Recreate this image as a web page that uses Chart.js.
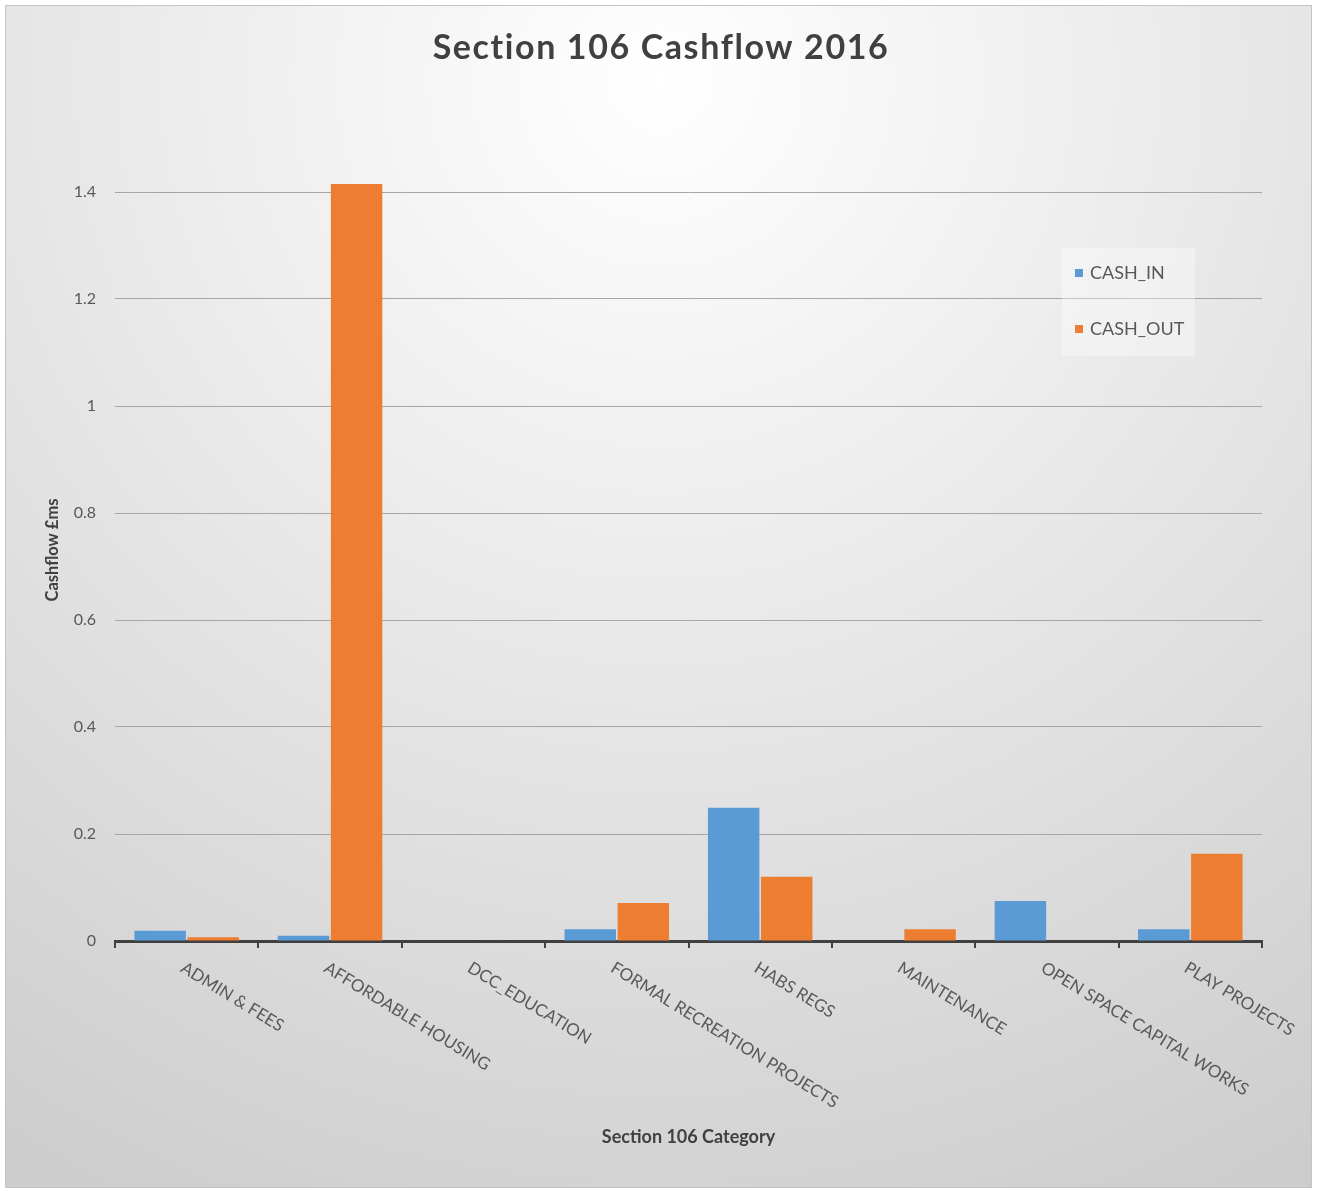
<!DOCTYPE html>
<html>
<head>
<meta charset="utf-8">
<title>Section 106 Cashflow 2016</title>
<script src="https://cdn.jsdelivr.net/npm/chart.js@4.4.1/dist/chart.umd.min.js"></script>
<style>
  html, body { margin: 0; padding: 0; background: #fff; }
  #wrap { width: 1317px; height: 1191px; }
</style>
</head>
<body>
<div id="wrap"><canvas id="chart" width="1317" height="1191"></canvas></div>
<script>
const categories = [
  "ADMIN & FEES",
  "AFFORDABLE HOUSING",
  "DCC_EDUCATION",
  "FORMAL RECREATION PROJECTS",
  "HABS REGS",
  "MAINTENANCE",
  "OPEN SPACE CAPITAL WORKS",
  "PLAY PROJECTS"
]
const cashIn = [0.019, 0.010, 0, 0.022, 0.249, 0, 0.075, 0.022]
const cashOut = [0.007, 1.415, 0, 0.071, 0.120, 0.022, 0, 0.163]
const yTicks = [0, 0.2, 0.4, 0.6, 0.8, 1, 1.2, 1.4]

const FONT = "Lato, 'Open Sans', sans-serif"
const BLUE = "#5B9BD5"
const ORANGE = "#ED7D31"

// background, frame, title, axis titles, slanted labels and legend
const decorations = {
  id: "decorations",
  beforeDraw(chart) {
    const ctx = chart.ctx
    const w = chart.width, h = chart.height
    ctx.save()
    ctx.fillStyle = "#ffffff"
    ctx.fillRect(0, 0, w, h)
    const g = ctx.createRadialGradient(660, 80, 0, 660, 80, 1250)
    g.addColorStop(0, "#ffffff")
    g.addColorStop(0.35, "#eeeeee")
    g.addColorStop(1, "#cdcdcd")
    ctx.fillStyle = g
    ctx.fillRect(6, 6, w - 12, h - 10)
    ctx.strokeStyle = "#c4c4c4"
    ctx.lineWidth = 1
    ctx.strokeRect(5.5, 5.5, w - 11, h - 9)
    ctx.restore()
  },
  afterDatasetsDraw(chart) {
    const ctx = chart.ctx
    const x = chart.scales.x
    const area = chart.chartArea
    ctx.save()

    // title
    ctx.fillStyle = "#404040"
    ctx.font = "bold 34px " + FONT
    ctx.letterSpacing = "1.6px"
    ctx.textAlign = "center"
    ctx.textBaseline = "middle"
    ctx.fillText("Section 106 Cashflow 2016", 661, 48)
    ctx.letterSpacing = "0px"

    // slanted category labels
    ctx.font = "17px " + FONT
    ctx.fillStyle = "#595959"
    ctx.textAlign = "left"
    ctx.textBaseline = "top"
    categories.forEach((label, i) => {
      const px = x.getPixelForValue(i)
      ctx.save()
      ctx.translate(px, area.bottom + 18)
      ctx.rotate(31.5 * Math.PI / 180)
      ctx.fillText(label, 0, 0)
      ctx.restore()
    })

    // axis titles
    ctx.fillStyle = "#404040"
    ctx.font = "bold 18px " + FONT
    ctx.textAlign = "center"
    ctx.textBaseline = "middle"
    ctx.fillText("Section 106 Category", (area.left + area.right) / 2, 1137)
    ctx.save()
    ctx.translate(53, 550)
    ctx.rotate(-Math.PI / 2)
    ctx.font = "bold 16.5px " + FONT
    ctx.fillText("Cashflow £ms", 0, 0)
    ctx.restore()

    // legend
    ctx.fillStyle = "rgba(255,255,255,0.35)"
    ctx.fillRect(1062, 248, 133, 108)
    ctx.font = "18px " + FONT
    ctx.textAlign = "left"
    ctx.textBaseline = "middle"
    chart.data.datasets.forEach((ds, i) => {
      const ly = 273 + i * 56
      ctx.fillStyle = ds.backgroundColor
      ctx.fillRect(1075, ly - 4, 8, 8)
      ctx.fillStyle = "#595959"
      ctx.fillText(ds.label, 1090, ly)
    })
    ctx.restore()
  }
}

new Chart(document.getElementById("chart"), {
  type: "bar",
  data: {
    labels: categories,
    datasets: [
      { label: "CASH_IN", data: cashIn, backgroundColor: BLUE, clip: false },
      { label: "CASH_OUT", data: cashOut, backgroundColor: ORANGE, clip: false }
    ]
  },
  options: {
    responsive: false,
    animation: false,
    events: [],
    categoryPercentage: 0.74,
    barPercentage: 0.97,
    layout: { padding: { left: 6, right: 55, top: 192, bottom: 0 } },
    plugins: {
      legend: { display: false },
      title: { display: false },
      tooltip: { enabled: false }
    },
    scales: {
      x: {
        grid: {
          offset: true,
          drawOnChartArea: false,
          drawTicks: true,
          tickLength: 7,
          color: "#404040",
          lineWidth: 2
        },
        border: { display: true, color: "#404040", width: 3 },
        ticks: { display: false },
        afterFit(scale) { scale.height = 250 }
      },
      y: {
        min: 0,
        max: 1.4,
        afterBuildTicks(scale) { scale.ticks = yTicks.map(v => ({ value: v })) },
        grid: { color: "#a6a6a6", lineWidth: 1, drawTicks: false },
        border: { display: false },
        ticks: {
          padding: 19,
          color: "#595959",
          font: { family: FONT, size: 16 },
          callback: v => String(Number(v.toFixed(1)))
        },
        afterFit(scale) { scale.width = 109 }
      }
    }
  },
  plugins: [decorations]
})
</script>
</body>
</html>
